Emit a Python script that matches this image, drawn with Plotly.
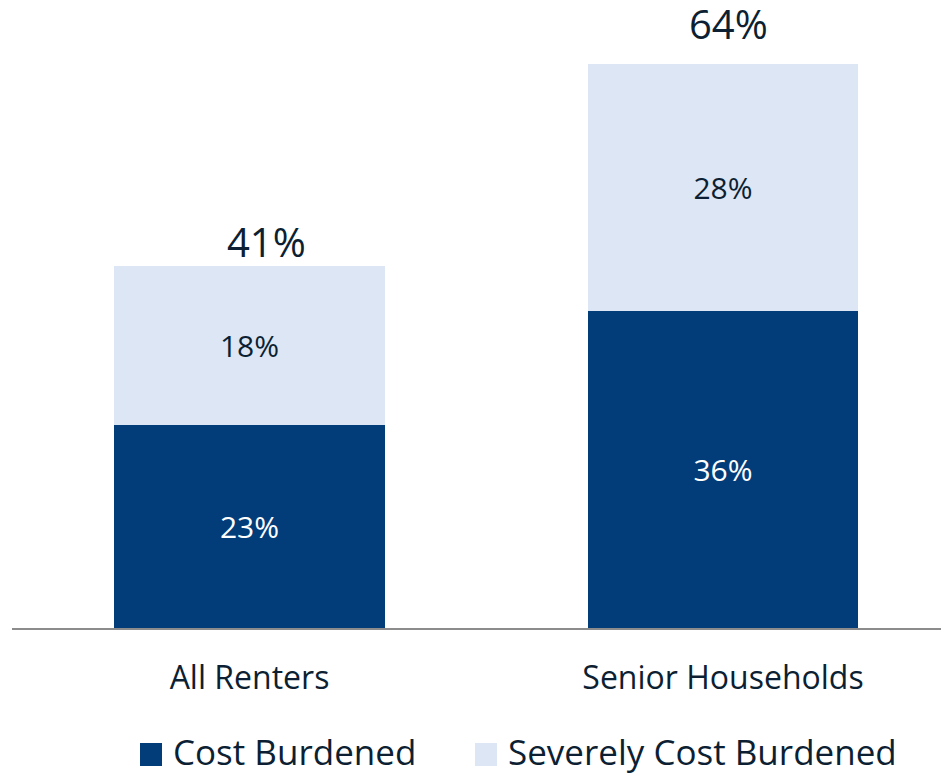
import plotly.graph_objects as go

categories = ["All Renters", "Senior Households"]
cost_burdened = [23, 36]
severely_burdened = [18, 28]
totals = [41, 64]
series_names = ["Cost Burdened", "Severely Cost Burdened"]

DARK = "#023D7A"
LIGHT = "#DCE6F4"
TEXT = "#0D1F33"
FONT = "Open Sans"

# label placement offsets (pixels), styling only
total_xshift = [17, 5]
total_yshift = [25, 40]

fig = go.Figure()
fig.add_trace(go.Bar(
    x=categories, y=cost_burdened, name=series_names[0],
    marker=dict(color=DARK, line=dict(width=0)),
    text=[f"{v}%" for v in cost_burdened], textposition="inside",
    insidetextanchor="middle", textangle=0,
    textfont=dict(family=FONT, size=30, color="white"),
    width=0.572, showlegend=False,
))
fig.add_trace(go.Bar(
    x=categories, y=severely_burdened, name=series_names[1],
    marker=dict(color=LIGHT, line=dict(width=0)),
    text=[f"{v}%" for v in severely_burdened], textposition="inside",
    insidetextanchor="middle", textangle=0,
    textfont=dict(family=FONT, size=30, color=TEXT),
    width=0.572, showlegend=False,
))

for c, t, xs, ys in zip(categories, totals, total_xshift, total_yshift):
    fig.add_annotation(x=c, y=t, text=f"{t}%", showarrow=False,
                       yanchor="middle", xshift=xs, yshift=ys,
                       font=dict(family=FONT, size=40, color=TEXT))

# legend keys (squares) and names
key_x = [0.1366, 0.4941]
text_x = [0.170, 0.527]
for name, col, kx, tx in zip(series_names, [DARK, LIGHT], key_x, text_x):
    fig.add_shape(type="rect", xref="paper", yref="paper",
                  x0=kx, x1=kx + 0.0235, y0=-0.2226, y1=-0.1855,
                  fillcolor=col, line=dict(width=0))
    fig.add_annotation(xref="paper", yref="paper", x=tx, y=-0.2403,
                       xanchor="left", yanchor="bottom", showarrow=False,
                       text=name,
                       font=dict(family=FONT, size=35, color=TEXT))

fig.update_layout(
    barmode="stack",
    width=941, height=766,
    margin=dict(l=4, r=0, t=0, b=146),
    paper_bgcolor="white", plot_bgcolor="white",
    font=dict(family=FONT, color=TEXT),
    xaxis=dict(type="category", range=[-0.5016, 1.4773],
               showline=True, linecolor="#8C8C8C", linewidth=2,
               ticks="", showgrid=False, zeroline=False,
               tickfont=dict(family=FONT, size=32, color=TEXT),
               ticklabelstandoff=21),
    yaxis=dict(range=[0, 70.3], visible=False, showgrid=False, zeroline=False),
    showlegend=False,
)

fig.write_html("out.html")
